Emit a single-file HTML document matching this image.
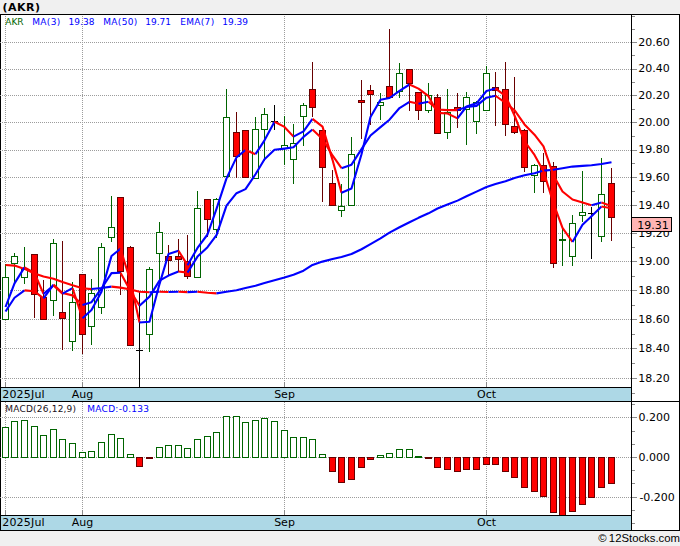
<!DOCTYPE html>
<html><head><meta charset="utf-8"><title>AKR</title>
<style>html,body{margin:0;padding:0;background:#f0f0f0;}svg{display:block}text{font-family:"DejaVu Sans","Liberation Sans",sans-serif;}.ax{font-size:11px;fill:#000}.lg{font-size:9px}.dt{font-size:11px;fill:#000}.g{stroke:#9c9c9c;stroke-width:1;stroke-dasharray:1 1;shape-rendering:crispEdges}</style></head><body>
<svg width="680" height="546" viewBox="0 0 680 546">
<rect x="0" y="0" width="680" height="546" fill="#f0f0f0"/>
<rect x="0" y="14" width="680" height="517" fill="#000"/>
<rect x="1" y="15" width="678" height="386" fill="#fff"/>
<rect x="1" y="402" width="678" height="128" fill="#fff"/>
<rect x="1" y="387" width="630" height="1" fill="#000"/>
<rect x="1" y="388" width="630" height="13" fill="#add8e6"/>
<rect x="1" y="515" width="630" height="1" fill="#000"/>
<rect x="1" y="516" width="630" height="14" fill="#add8e6"/>
<line class="g" x1="0" x2="631" y1="42.5" y2="42.5"/>
<rect x="632" y="42" width="5" height="1" fill="#8c8c8c"/>
<line class="g" x1="0" x2="631" y1="69.5" y2="69.5"/>
<rect x="632" y="69" width="5" height="1" fill="#8c8c8c"/>
<line class="g" x1="0" x2="631" y1="95.5" y2="95.5"/>
<rect x="632" y="95" width="5" height="1" fill="#8c8c8c"/>
<line class="g" x1="0" x2="631" y1="122.5" y2="122.5"/>
<rect x="632" y="122" width="5" height="1" fill="#8c8c8c"/>
<line class="g" x1="0" x2="631" y1="150.5" y2="150.5"/>
<rect x="632" y="150" width="5" height="1" fill="#8c8c8c"/>
<line class="g" x1="0" x2="631" y1="177.5" y2="177.5"/>
<rect x="632" y="177" width="5" height="1" fill="#8c8c8c"/>
<line class="g" x1="0" x2="631" y1="205.5" y2="205.5"/>
<rect x="632" y="205" width="5" height="1" fill="#8c8c8c"/>
<line class="g" x1="0" x2="631" y1="233.5" y2="233.5"/>
<rect x="632" y="233" width="5" height="1" fill="#8c8c8c"/>
<line class="g" x1="0" x2="631" y1="261.5" y2="261.5"/>
<rect x="632" y="261" width="5" height="1" fill="#8c8c8c"/>
<line class="g" x1="0" x2="631" y1="290.5" y2="290.5"/>
<rect x="632" y="290" width="5" height="1" fill="#8c8c8c"/>
<line class="g" x1="0" x2="631" y1="319.5" y2="319.5"/>
<rect x="632" y="319" width="5" height="1" fill="#8c8c8c"/>
<line class="g" x1="0" x2="631" y1="348.5" y2="348.5"/>
<rect x="632" y="348" width="5" height="1" fill="#8c8c8c"/>
<line class="g" x1="0" x2="631" y1="378.5" y2="378.5"/>
<rect x="632" y="378" width="5" height="1" fill="#8c8c8c"/>
<rect x="632" y="29" width="3" height="1" fill="#8c8c8c"/>
<rect x="632" y="55" width="3" height="1" fill="#8c8c8c"/>
<rect x="632" y="82" width="3" height="1" fill="#8c8c8c"/>
<rect x="632" y="109" width="3" height="1" fill="#8c8c8c"/>
<rect x="632" y="136" width="3" height="1" fill="#8c8c8c"/>
<rect x="632" y="163" width="3" height="1" fill="#8c8c8c"/>
<rect x="632" y="191" width="3" height="1" fill="#8c8c8c"/>
<rect x="632" y="219" width="3" height="1" fill="#8c8c8c"/>
<rect x="632" y="247" width="3" height="1" fill="#8c8c8c"/>
<rect x="632" y="276" width="3" height="1" fill="#8c8c8c"/>
<rect x="632" y="305" width="3" height="1" fill="#8c8c8c"/>
<rect x="632" y="334" width="3" height="1" fill="#8c8c8c"/>
<rect x="632" y="363" width="3" height="1" fill="#8c8c8c"/>
<rect x="632" y="16" width="3" height="1" fill="#8c8c8c"/>
<rect x="632" y="393" width="3" height="1" fill="#8c8c8c"/>
<line class="g" x1="0" x2="631" y1="417.5" y2="417.5"/>
<rect x="632" y="417" width="5" height="1" fill="#8c8c8c"/>
<line class="g" x1="0" x2="631" y1="457.5" y2="457.5"/>
<rect x="632" y="457" width="5" height="1" fill="#8c8c8c"/>
<line class="g" x1="0" x2="631" y1="497.5" y2="497.5"/>
<rect x="632" y="497" width="5" height="1" fill="#8c8c8c"/>
<rect x="632" y="404" width="3" height="1" fill="#8c8c8c"/>
<rect x="632" y="431" width="3" height="1" fill="#8c8c8c"/>
<rect x="632" y="444" width="3" height="1" fill="#8c8c8c"/>
<rect x="632" y="470" width="3" height="1" fill="#8c8c8c"/>
<rect x="632" y="483" width="3" height="1" fill="#8c8c8c"/>
<rect x="632" y="510" width="3" height="1" fill="#8c8c8c"/>
<rect x="632" y="523" width="3" height="1" fill="#8c8c8c"/>
<line class="g" x1="5.5" x2="5.5" y1="16" y2="382"/>
<line class="g" x1="5.5" x2="5.5" y1="402" y2="510"/>
<rect x="5" y="382" width="1" height="5" fill="#8c8c8c"/>
<rect x="5" y="510" width="1" height="5" fill="#8c8c8c"/>
<line class="g" x1="82.5" x2="82.5" y1="16" y2="382"/>
<line class="g" x1="82.5" x2="82.5" y1="402" y2="510"/>
<rect x="82" y="382" width="1" height="5" fill="#8c8c8c"/>
<rect x="82" y="510" width="1" height="5" fill="#8c8c8c"/>
<line class="g" x1="284.5" x2="284.5" y1="16" y2="382"/>
<line class="g" x1="284.5" x2="284.5" y1="402" y2="510"/>
<rect x="284" y="382" width="1" height="5" fill="#8c8c8c"/>
<rect x="284" y="510" width="1" height="5" fill="#8c8c8c"/>
<line class="g" x1="486.5" x2="486.5" y1="16" y2="382"/>
<line class="g" x1="486.5" x2="486.5" y1="402" y2="510"/>
<rect x="486" y="382" width="1" height="5" fill="#8c8c8c"/>
<rect x="486" y="510" width="1" height="5" fill="#8c8c8c"/>
<rect x="631" y="15" width="1" height="515" fill="#000"/>
<defs><clipPath id="c1"><rect x="1" y="15" width="630" height="372"/></clipPath><clipPath id="c2"><rect x="1" y="402" width="630" height="113"/></clipPath></defs>
<g clip-path="url(#c1)">
<rect x="5" y="264" width="1" height="56" fill="#006400"/>
<rect x="2" y="277" width="7" height="43" fill="#006400"/>
<rect x="3" y="278" width="5" height="41" fill="#fff"/>
<rect x="14" y="253" width="1" height="30" fill="#006400"/>
<rect x="11" y="256" width="7" height="8" fill="#006400"/>
<rect x="12" y="257" width="5" height="6" fill="#fff"/>
<rect x="24" y="247" width="1" height="37" fill="#006400"/>
<rect x="21" y="268" width="7" height="10" fill="#006400"/>
<rect x="22" y="269" width="5" height="8" fill="#fff"/>
<rect x="34" y="254" width="1" height="64" fill="#680000"/>
<rect x="31" y="254" width="7" height="41" fill="#680000"/>
<rect x="32" y="255" width="5" height="39" fill="#ff0000"/>
<rect x="43" y="280" width="1" height="40" fill="#680000"/>
<rect x="40" y="297" width="7" height="23" fill="#680000"/>
<rect x="41" y="298" width="5" height="21" fill="#ff0000"/>
<rect x="53" y="239" width="1" height="77" fill="#006400"/>
<rect x="50" y="243" width="7" height="58" fill="#006400"/>
<rect x="51" y="244" width="5" height="56" fill="#fff"/>
<rect x="62" y="241" width="1" height="109" fill="#680000"/>
<rect x="59" y="312" width="7" height="7" fill="#680000"/>
<rect x="60" y="313" width="5" height="5" fill="#ff0000"/>
<rect x="72" y="282" width="1" height="69" fill="#006400"/>
<rect x="69" y="302" width="7" height="40" fill="#006400"/>
<rect x="70" y="303" width="5" height="38" fill="#fff"/>
<rect x="82" y="274" width="1" height="80" fill="#680000"/>
<rect x="79" y="274" width="7" height="61" fill="#680000"/>
<rect x="80" y="275" width="5" height="59" fill="#ff0000"/>
<rect x="91" y="279" width="1" height="66" fill="#006400"/>
<rect x="88" y="293" width="7" height="34" fill="#006400"/>
<rect x="89" y="294" width="5" height="32" fill="#fff"/>
<rect x="101" y="243" width="1" height="71" fill="#006400"/>
<rect x="98" y="247" width="7" height="61" fill="#006400"/>
<rect x="99" y="248" width="5" height="59" fill="#fff"/>
<rect x="111" y="196" width="1" height="46" fill="#006400"/>
<rect x="108" y="227" width="7" height="11" fill="#006400"/>
<rect x="109" y="228" width="5" height="9" fill="#fff"/>
<rect x="120" y="197" width="1" height="98" fill="#680000"/>
<rect x="117" y="197" width="7" height="75" fill="#680000"/>
<rect x="118" y="198" width="5" height="73" fill="#ff0000"/>
<rect x="130" y="246" width="1" height="100" fill="#680000"/>
<rect x="127" y="247" width="7" height="99" fill="#680000"/>
<rect x="128" y="248" width="5" height="97" fill="#ff0000"/>
<rect x="139" y="292" width="1" height="96" fill="#000"/>
<rect x="136" y="350" width="7" height="1" fill="#000"/>
<rect x="149" y="267" width="1" height="85" fill="#006400"/>
<rect x="146" y="269" width="7" height="66" fill="#006400"/>
<rect x="147" y="270" width="5" height="64" fill="#fff"/>
<rect x="159" y="222" width="1" height="62" fill="#006400"/>
<rect x="156" y="232" width="7" height="22" fill="#006400"/>
<rect x="157" y="233" width="5" height="20" fill="#fff"/>
<rect x="168" y="245" width="1" height="30" fill="#680000"/>
<rect x="165" y="256" width="7" height="5" fill="#680000"/>
<rect x="166" y="257" width="5" height="3" fill="#ff0000"/>
<rect x="178" y="239" width="1" height="33" fill="#680000"/>
<rect x="175" y="256" width="7" height="4" fill="#680000"/>
<rect x="176" y="257" width="5" height="2" fill="#ff0000"/>
<rect x="187" y="235" width="1" height="44" fill="#680000"/>
<rect x="184" y="261" width="7" height="16" fill="#680000"/>
<rect x="185" y="262" width="5" height="14" fill="#ff0000"/>
<rect x="197" y="191" width="1" height="87" fill="#006400"/>
<rect x="194" y="208" width="7" height="70" fill="#006400"/>
<rect x="195" y="209" width="5" height="68" fill="#fff"/>
<rect x="207" y="199" width="1" height="38" fill="#680000"/>
<rect x="204" y="199" width="7" height="21" fill="#680000"/>
<rect x="205" y="200" width="5" height="19" fill="#ff0000"/>
<rect x="216" y="198" width="1" height="40" fill="#006400"/>
<rect x="213" y="199" width="7" height="31" fill="#006400"/>
<rect x="214" y="200" width="5" height="29" fill="#fff"/>
<rect x="226" y="89" width="1" height="88" fill="#006400"/>
<rect x="223" y="117" width="7" height="60" fill="#006400"/>
<rect x="224" y="118" width="5" height="58" fill="#fff"/>
<rect x="236" y="112" width="1" height="66" fill="#680000"/>
<rect x="233" y="132" width="7" height="25" fill="#680000"/>
<rect x="234" y="133" width="5" height="23" fill="#ff0000"/>
<rect x="245" y="130" width="1" height="48" fill="#680000"/>
<rect x="242" y="130" width="7" height="48" fill="#680000"/>
<rect x="243" y="131" width="5" height="46" fill="#ff0000"/>
<rect x="255" y="117" width="1" height="62" fill="#006400"/>
<rect x="252" y="129" width="7" height="50" fill="#006400"/>
<rect x="253" y="130" width="5" height="48" fill="#fff"/>
<rect x="264" y="108" width="1" height="53" fill="#006400"/>
<rect x="261" y="114" width="7" height="16" fill="#006400"/>
<rect x="262" y="115" width="5" height="14" fill="#fff"/>
<rect x="274" y="105" width="1" height="25" fill="#000"/>
<rect x="271" y="121" width="7" height="1" fill="#000"/>
<rect x="284" y="116" width="1" height="49" fill="#006400"/>
<rect x="281" y="145" width="7" height="4" fill="#006400"/>
<rect x="282" y="146" width="5" height="2" fill="#fff"/>
<rect x="293" y="124" width="1" height="60" fill="#006400"/>
<rect x="290" y="143" width="7" height="17" fill="#006400"/>
<rect x="291" y="144" width="5" height="15" fill="#fff"/>
<rect x="303" y="103" width="1" height="43" fill="#006400"/>
<rect x="300" y="105" width="7" height="12" fill="#006400"/>
<rect x="301" y="106" width="5" height="10" fill="#fff"/>
<rect x="312" y="62" width="1" height="55" fill="#680000"/>
<rect x="309" y="89" width="7" height="19" fill="#680000"/>
<rect x="310" y="90" width="5" height="17" fill="#ff0000"/>
<rect x="322" y="130" width="1" height="72" fill="#680000"/>
<rect x="319" y="130" width="7" height="38" fill="#680000"/>
<rect x="320" y="131" width="5" height="36" fill="#ff0000"/>
<rect x="332" y="170" width="1" height="36" fill="#680000"/>
<rect x="329" y="183" width="7" height="23" fill="#680000"/>
<rect x="330" y="184" width="5" height="21" fill="#ff0000"/>
<rect x="341" y="184" width="1" height="33" fill="#006400"/>
<rect x="338" y="206" width="7" height="5" fill="#006400"/>
<rect x="339" y="207" width="5" height="3" fill="#fff"/>
<rect x="351" y="137" width="1" height="69" fill="#006400"/>
<rect x="348" y="154" width="7" height="52" fill="#006400"/>
<rect x="349" y="155" width="5" height="50" fill="#fff"/>
<rect x="361" y="80" width="1" height="59" fill="#680000"/>
<rect x="358" y="100" width="7" height="3" fill="#680000"/>
<rect x="359" y="101" width="5" height="1" fill="#ff0000"/>
<rect x="370" y="85" width="1" height="40" fill="#680000"/>
<rect x="367" y="90" width="7" height="5" fill="#680000"/>
<rect x="368" y="91" width="5" height="3" fill="#ff0000"/>
<rect x="380" y="93" width="1" height="27" fill="#006400"/>
<rect x="377" y="102" width="7" height="4" fill="#006400"/>
<rect x="378" y="103" width="5" height="2" fill="#fff"/>
<rect x="389" y="29" width="1" height="69" fill="#680000"/>
<rect x="386" y="86" width="7" height="12" fill="#680000"/>
<rect x="387" y="87" width="5" height="10" fill="#ff0000"/>
<rect x="399" y="63" width="1" height="35" fill="#006400"/>
<rect x="396" y="73" width="7" height="19" fill="#006400"/>
<rect x="397" y="74" width="5" height="17" fill="#fff"/>
<rect x="409" y="69" width="1" height="42" fill="#680000"/>
<rect x="406" y="69" width="7" height="15" fill="#680000"/>
<rect x="407" y="70" width="5" height="13" fill="#ff0000"/>
<rect x="418" y="92" width="1" height="28" fill="#680000"/>
<rect x="415" y="92" width="7" height="19" fill="#680000"/>
<rect x="416" y="93" width="5" height="17" fill="#ff0000"/>
<rect x="428" y="83" width="1" height="30" fill="#006400"/>
<rect x="425" y="95" width="7" height="16" fill="#006400"/>
<rect x="426" y="96" width="5" height="14" fill="#fff"/>
<rect x="437" y="94" width="1" height="40" fill="#680000"/>
<rect x="434" y="97" width="7" height="37" fill="#680000"/>
<rect x="435" y="98" width="5" height="35" fill="#ff0000"/>
<rect x="447" y="89" width="1" height="50" fill="#006400"/>
<rect x="444" y="112" width="7" height="21" fill="#006400"/>
<rect x="445" y="113" width="5" height="19" fill="#fff"/>
<rect x="457" y="93" width="1" height="35" fill="#680000"/>
<rect x="454" y="107" width="7" height="4" fill="#680000"/>
<rect x="455" y="108" width="5" height="2" fill="#ff0000"/>
<rect x="466" y="92" width="1" height="53" fill="#006400"/>
<rect x="463" y="97" width="7" height="13" fill="#006400"/>
<rect x="464" y="98" width="5" height="11" fill="#fff"/>
<rect x="476" y="101" width="1" height="33" fill="#006400"/>
<rect x="473" y="102" width="7" height="20" fill="#006400"/>
<rect x="474" y="103" width="5" height="18" fill="#fff"/>
<rect x="486" y="66" width="1" height="45" fill="#006400"/>
<rect x="483" y="73" width="7" height="38" fill="#006400"/>
<rect x="484" y="74" width="5" height="36" fill="#fff"/>
<rect x="495" y="72" width="1" height="54" fill="#680000"/>
<rect x="492" y="87" width="7" height="4" fill="#680000"/>
<rect x="493" y="88" width="5" height="2" fill="#ff0000"/>
<rect x="505" y="62" width="1" height="74" fill="#680000"/>
<rect x="502" y="89" width="7" height="36" fill="#680000"/>
<rect x="503" y="90" width="5" height="34" fill="#ff0000"/>
<rect x="514" y="77" width="1" height="57" fill="#680000"/>
<rect x="511" y="126" width="7" height="7" fill="#680000"/>
<rect x="512" y="127" width="5" height="5" fill="#ff0000"/>
<rect x="524" y="129" width="1" height="43" fill="#680000"/>
<rect x="521" y="130" width="7" height="38" fill="#680000"/>
<rect x="522" y="131" width="5" height="36" fill="#ff0000"/>
<rect x="534" y="164" width="1" height="29" fill="#006400"/>
<rect x="531" y="165" width="7" height="11" fill="#006400"/>
<rect x="532" y="166" width="5" height="9" fill="#fff"/>
<rect x="543" y="153" width="1" height="40" fill="#680000"/>
<rect x="540" y="165" width="7" height="17" fill="#680000"/>
<rect x="541" y="166" width="5" height="15" fill="#ff0000"/>
<rect x="553" y="162" width="1" height="106" fill="#680000"/>
<rect x="550" y="166" width="7" height="98" fill="#680000"/>
<rect x="551" y="167" width="5" height="96" fill="#ff0000"/>
<rect x="562" y="229" width="1" height="37" fill="#006400"/>
<rect x="559" y="239" width="7" height="2" fill="#006400"/>
<rect x="572" y="215" width="1" height="51" fill="#006400"/>
<rect x="569" y="223" width="7" height="34" fill="#006400"/>
<rect x="570" y="224" width="5" height="32" fill="#fff"/>
<rect x="582" y="171" width="1" height="51" fill="#006400"/>
<rect x="579" y="212" width="7" height="4" fill="#006400"/>
<rect x="580" y="213" width="5" height="2" fill="#fff"/>
<rect x="591" y="207" width="1" height="52" fill="#000"/>
<rect x="588" y="213" width="7" height="1" fill="#000"/>
<rect x="601" y="158" width="1" height="84" fill="#006400"/>
<rect x="598" y="194" width="7" height="43" fill="#006400"/>
<rect x="599" y="195" width="5" height="41" fill="#fff"/>
<rect x="611" y="168" width="1" height="73" fill="#680000"/>
<rect x="608" y="183" width="7" height="35" fill="#680000"/>
<rect x="609" y="184" width="5" height="33" fill="#ff0000"/>
<polyline points="5.5,265.01 14.5,265.6 24.5,268.89 34.5,273.47 43.5,276.55 53.5,278.83 62.5,282.09 72.5,285.33 82.5,288.27 91.5,289.08" fill="none" stroke="#ff0000" stroke-width="2.1" stroke-linejoin="round" stroke-linecap="butt"/>
<polyline points="91.5,289.08 101.5,287.97 111.5,286.62" fill="none" stroke="#0000ff" stroke-width="2.1" stroke-linejoin="round" stroke-linecap="butt"/>
<polyline points="111.5,286.62 120.5,287.65 130.5,289.56 139.5,291.76 149.5,292.24" fill="none" stroke="#ff0000" stroke-width="2.1" stroke-linejoin="round" stroke-linecap="butt"/>
<polyline points="149.5,292.24 159.5,291.75" fill="none" stroke="#0000ff" stroke-width="2.1" stroke-linejoin="round" stroke-linecap="butt"/>
<polyline points="159.5,291.75 168.5,291.95" fill="none" stroke="#ff0000" stroke-width="2.1" stroke-linejoin="round" stroke-linecap="butt"/>
<polyline points="168.5,291.95 178.5,291.76" fill="none" stroke="#0000ff" stroke-width="2.1" stroke-linejoin="round" stroke-linecap="butt"/>
<polyline points="178.5,291.76 187.5,292.09" fill="none" stroke="#ff0000" stroke-width="2.1" stroke-linejoin="round" stroke-linecap="butt"/>
<polyline points="187.5,292.09 197.5,291.77" fill="none" stroke="#0000ff" stroke-width="2.1" stroke-linejoin="round" stroke-linecap="butt"/>
<polyline points="197.5,291.77 207.5,292.76 216.5,293.36" fill="none" stroke="#ff0000" stroke-width="2.1" stroke-linejoin="round" stroke-linecap="butt"/>
<polyline points="216.5,293.36 226.5,291.73 236.5,290.22 245.5,287.96 255.5,285.7 264.5,282.96 274.5,280.21 284.5,277.48 293.5,274.76 303.5,270.74 312.5,264.97 322.5,261.61 332.5,258.98 341.5,256.9 351.5,254.07 361.5,249.24 370.5,244.11 380.5,238.34 389.5,232.57 399.5,227.27 409.5,222.21 418.5,217.82 428.5,213.33 437.5,208.52 447.5,204.47 457.5,200.62 466.5,196.23 476.5,191.6 486.5,186.99 495.5,184.08 505.5,181.18 514.5,178.04 524.5,175.27 534.5,173.17 543.5,170.6 553.5,169.78 562.5,168.31 572.5,166.59 582.5,165.89 591.5,165.29 601.5,163.97 611.5,162.18" fill="none" stroke="#0000ff" stroke-width="2.1" stroke-linejoin="round" stroke-linecap="butt"/>
<polyline points="5.5,311.5 14.5,297.73 24.5,290.42" fill="none" stroke="#0000ff" stroke-width="2.1" stroke-linejoin="round" stroke-linecap="butt"/>
<polyline points="24.5,290.42 34.5,291.31 43.5,298.3" fill="none" stroke="#ff0000" stroke-width="2.1" stroke-linejoin="round" stroke-linecap="butt"/>
<polyline points="43.5,298.3 53.5,284.54" fill="none" stroke="#0000ff" stroke-width="2.1" stroke-linejoin="round" stroke-linecap="butt"/>
<polyline points="53.5,284.54 62.5,293 72.5,295.38 82.5,305.03" fill="none" stroke="#ff0000" stroke-width="2.1" stroke-linejoin="round" stroke-linecap="butt"/>
<polyline points="82.5,305.03 91.5,302.15 101.5,288.46 111.5,273.1 120.5,272.76" fill="none" stroke="#0000ff" stroke-width="2.1" stroke-linejoin="round" stroke-linecap="butt"/>
<polyline points="120.5,272.76 130.5,290.92 139.5,305.79" fill="none" stroke="#ff0000" stroke-width="2.1" stroke-linejoin="round" stroke-linecap="butt"/>
<polyline points="139.5,305.79 149.5,296.65 159.5,280.64 168.5,275.54 178.5,271.47" fill="none" stroke="#0000ff" stroke-width="2.1" stroke-linejoin="round" stroke-linecap="butt"/>
<polyline points="178.5,271.47 187.5,272.6" fill="none" stroke="#ff0000" stroke-width="2.1" stroke-linejoin="round" stroke-linecap="butt"/>
<polyline points="187.5,272.6 197.5,256.58 207.5,247.18 216.5,235.14 226.5,205.6 236.5,193.2 245.5,189.15 255.5,174.24 264.5,159.3 274.5,149.8 284.5,148.6 293.5,147.33 303.5,136.87 312.5,129.53" fill="none" stroke="#0000ff" stroke-width="2.1" stroke-linejoin="round" stroke-linecap="butt"/>
<polyline points="312.5,129.53 322.5,138.9 332.5,155.42 341.5,168.19" fill="none" stroke="#ff0000" stroke-width="2.1" stroke-linejoin="round" stroke-linecap="butt"/>
<polyline points="341.5,168.19 351.5,164.64 361.5,149.11 370.5,135.46 380.5,127.09 389.5,119.69 399.5,108.02 409.5,101.77" fill="none" stroke="#0000ff" stroke-width="2.1" stroke-linejoin="round" stroke-linecap="butt"/>
<polyline points="409.5,101.77 418.5,103.82" fill="none" stroke="#ff0000" stroke-width="2.1" stroke-linejoin="round" stroke-linecap="butt"/>
<polyline points="418.5,103.82 428.5,101.74" fill="none" stroke="#0000ff" stroke-width="2.1" stroke-linejoin="round" stroke-linecap="butt"/>
<polyline points="428.5,101.74 437.5,109.56 447.5,110.17 457.5,110.13" fill="none" stroke="#ff0000" stroke-width="2.1" stroke-linejoin="round" stroke-linecap="butt"/>
<polyline points="457.5,110.13 466.5,106.97 476.5,105.85 486.5,97.66 495.5,95.75" fill="none" stroke="#0000ff" stroke-width="2.1" stroke-linejoin="round" stroke-linecap="butt"/>
<polyline points="495.5,95.75 505.5,102.91 514.5,110.21 524.5,124.47 534.5,134.7 543.5,146.34 553.5,175.63 562.5,191.47 572.5,199.48 582.5,202.61 591.5,205.33" fill="none" stroke="#ff0000" stroke-width="2.1" stroke-linejoin="round" stroke-linecap="butt"/>
<polyline points="591.5,205.33 601.5,202.5" fill="none" stroke="#0000ff" stroke-width="2.1" stroke-linejoin="round" stroke-linecap="butt"/>
<polyline points="601.5,202.5 611.5,206.12" fill="none" stroke="#ff0000" stroke-width="2.1" stroke-linejoin="round" stroke-linecap="butt"/>
<polyline points="5.5,307 14.5,283.4 24.5,267.33" fill="none" stroke="#0000ff" stroke-width="2.1" stroke-linejoin="round" stroke-linecap="butt"/>
<polyline points="24.5,267.33 34.5,272.97 43.5,293.92" fill="none" stroke="#ff0000" stroke-width="2.1" stroke-linejoin="round" stroke-linecap="butt"/>
<polyline points="43.5,293.92 53.5,285.5" fill="none" stroke="#0000ff" stroke-width="2.1" stroke-linejoin="round" stroke-linecap="butt"/>
<polyline points="53.5,285.5 62.5,293.63" fill="none" stroke="#ff0000" stroke-width="2.1" stroke-linejoin="round" stroke-linecap="butt"/>
<polyline points="62.5,293.63 72.5,288.05" fill="none" stroke="#0000ff" stroke-width="2.1" stroke-linejoin="round" stroke-linecap="butt"/>
<polyline points="72.5,288.05 82.5,318.3" fill="none" stroke="#ff0000" stroke-width="2.1" stroke-linejoin="round" stroke-linecap="butt"/>
<polyline points="82.5,318.3 91.5,310 101.5,291.63 111.5,255.97 120.5,248.72" fill="none" stroke="#0000ff" stroke-width="2.1" stroke-linejoin="round" stroke-linecap="butt"/>
<polyline points="120.5,248.72 130.5,281.38 139.5,322.52" fill="none" stroke="#ff0000" stroke-width="2.1" stroke-linejoin="round" stroke-linecap="butt"/>
<polyline points="139.5,322.52 149.5,321.68 159.5,284.08 168.5,254.03 178.5,250.7" fill="none" stroke="#0000ff" stroke-width="2.1" stroke-linejoin="round" stroke-linecap="butt"/>
<polyline points="178.5,250.7 187.5,265.17" fill="none" stroke="#ff0000" stroke-width="2.1" stroke-linejoin="round" stroke-linecap="butt"/>
<polyline points="187.5,265.17 197.5,247.92 207.5,234.5 216.5,208.83 226.5,178.33 236.5,157.33 245.5,150" fill="none" stroke="#0000ff" stroke-width="2.1" stroke-linejoin="round" stroke-linecap="butt"/>
<polyline points="245.5,150 255.5,154.17" fill="none" stroke="#ff0000" stroke-width="2.1" stroke-linejoin="round" stroke-linecap="butt"/>
<polyline points="255.5,154.17 264.5,140.33 274.5,121.77" fill="none" stroke="#0000ff" stroke-width="2.1" stroke-linejoin="round" stroke-linecap="butt"/>
<polyline points="274.5,121.77 284.5,126.93 293.5,136.6" fill="none" stroke="#ff0000" stroke-width="2.1" stroke-linejoin="round" stroke-linecap="butt"/>
<polyline points="293.5,136.6 303.5,131.33 312.5,118.83" fill="none" stroke="#0000ff" stroke-width="2.1" stroke-linejoin="round" stroke-linecap="butt"/>
<polyline points="312.5,118.83 322.5,126.67 332.5,159.83 341.5,192.83" fill="none" stroke="#ff0000" stroke-width="2.1" stroke-linejoin="round" stroke-linecap="butt"/>
<polyline points="341.5,192.83 351.5,188.5 361.5,154.33 370.5,117 380.5,99.67 389.5,98 399.5,90.83 409.5,84.5" fill="none" stroke="#0000ff" stroke-width="2.1" stroke-linejoin="round" stroke-linecap="butt"/>
<polyline points="409.5,84.5 418.5,88.67 428.5,96.17 437.5,112.83 447.5,113.5 457.5,118.33" fill="none" stroke="#ff0000" stroke-width="2.1" stroke-linejoin="round" stroke-linecap="butt"/>
<polyline points="457.5,118.33 466.5,106.5 476.5,103.33 486.5,91.03 495.5,88.53" fill="none" stroke="#0000ff" stroke-width="2.1" stroke-linejoin="round" stroke-linecap="butt"/>
<polyline points="495.5,88.53 505.5,95.83 514.5,115.5 524.5,141.25 534.5,154.92 543.5,171.3 553.5,203.38 562.5,227.92 572.5,242" fill="none" stroke="#ff0000" stroke-width="2.1" stroke-linejoin="round" stroke-linecap="butt"/>
<polyline points="572.5,242 582.5,224.83 591.5,216.33 601.5,206.5" fill="none" stroke="#0000ff" stroke-width="2.1" stroke-linejoin="round" stroke-linecap="butt"/>
<polyline points="601.5,206.5 611.5,208.17" fill="none" stroke="#ff0000" stroke-width="2.1" stroke-linejoin="round" stroke-linecap="butt"/>
</g>
<g clip-path="url(#c2)">
<rect x="2" y="427" width="7" height="31" fill="#006400"/>
<rect x="3" y="428" width="5" height="29" fill="#fff"/>
<rect x="11" y="421" width="7" height="37" fill="#006400"/>
<rect x="12" y="422" width="5" height="35" fill="#fff"/>
<rect x="21" y="420" width="7" height="38" fill="#006400"/>
<rect x="22" y="421" width="5" height="36" fill="#fff"/>
<rect x="31" y="426" width="7" height="32" fill="#006400"/>
<rect x="32" y="427" width="5" height="30" fill="#fff"/>
<rect x="40" y="435" width="7" height="23" fill="#006400"/>
<rect x="41" y="436" width="5" height="21" fill="#fff"/>
<rect x="50" y="429" width="7" height="29" fill="#006400"/>
<rect x="51" y="430" width="5" height="27" fill="#fff"/>
<rect x="59" y="439" width="7" height="19" fill="#006400"/>
<rect x="60" y="440" width="5" height="17" fill="#fff"/>
<rect x="69" y="443" width="7" height="15" fill="#006400"/>
<rect x="70" y="444" width="5" height="13" fill="#fff"/>
<rect x="79" y="452" width="7" height="6" fill="#006400"/>
<rect x="80" y="453" width="5" height="4" fill="#fff"/>
<rect x="88" y="451" width="7" height="7" fill="#006400"/>
<rect x="89" y="452" width="5" height="5" fill="#fff"/>
<rect x="98" y="442" width="7" height="16" fill="#006400"/>
<rect x="99" y="443" width="5" height="14" fill="#fff"/>
<rect x="108" y="434" width="7" height="24" fill="#006400"/>
<rect x="109" y="435" width="5" height="22" fill="#fff"/>
<rect x="117" y="438" width="7" height="20" fill="#006400"/>
<rect x="118" y="439" width="5" height="18" fill="#fff"/>
<rect x="127" y="454" width="7" height="4" fill="#006400"/>
<rect x="128" y="455" width="5" height="2" fill="#fff"/>
<rect x="136" y="457" width="7" height="10" fill="#680000"/>
<rect x="137" y="458" width="5" height="8" fill="#ff0000"/>
<rect x="146" y="457" width="7" height="2" fill="#680000"/>
<rect x="156" y="447" width="7" height="11" fill="#006400"/>
<rect x="157" y="448" width="5" height="9" fill="#fff"/>
<rect x="165" y="445" width="7" height="13" fill="#006400"/>
<rect x="166" y="446" width="5" height="11" fill="#fff"/>
<rect x="175" y="445" width="7" height="13" fill="#006400"/>
<rect x="176" y="446" width="5" height="11" fill="#fff"/>
<rect x="184" y="448" width="7" height="10" fill="#006400"/>
<rect x="185" y="449" width="5" height="8" fill="#fff"/>
<rect x="194" y="439" width="7" height="19" fill="#006400"/>
<rect x="195" y="440" width="5" height="17" fill="#fff"/>
<rect x="204" y="436" width="7" height="22" fill="#006400"/>
<rect x="205" y="437" width="5" height="20" fill="#fff"/>
<rect x="213" y="432" width="7" height="26" fill="#006400"/>
<rect x="214" y="433" width="5" height="24" fill="#fff"/>
<rect x="223" y="416" width="7" height="42" fill="#006400"/>
<rect x="224" y="417" width="5" height="40" fill="#fff"/>
<rect x="233" y="416" width="7" height="42" fill="#006400"/>
<rect x="234" y="417" width="5" height="40" fill="#fff"/>
<rect x="242" y="422" width="7" height="36" fill="#006400"/>
<rect x="243" y="423" width="5" height="34" fill="#fff"/>
<rect x="252" y="420" width="7" height="38" fill="#006400"/>
<rect x="253" y="421" width="5" height="36" fill="#fff"/>
<rect x="261" y="418" width="7" height="40" fill="#006400"/>
<rect x="262" y="419" width="5" height="38" fill="#fff"/>
<rect x="271" y="421" width="7" height="37" fill="#006400"/>
<rect x="272" y="422" width="5" height="35" fill="#fff"/>
<rect x="281" y="430" width="7" height="28" fill="#006400"/>
<rect x="282" y="431" width="5" height="26" fill="#fff"/>
<rect x="290" y="437" width="7" height="21" fill="#006400"/>
<rect x="291" y="438" width="5" height="19" fill="#fff"/>
<rect x="300" y="437" width="7" height="21" fill="#006400"/>
<rect x="301" y="438" width="5" height="19" fill="#fff"/>
<rect x="309" y="439" width="7" height="19" fill="#006400"/>
<rect x="310" y="440" width="5" height="17" fill="#fff"/>
<rect x="319" y="454" width="7" height="4" fill="#006400"/>
<rect x="320" y="455" width="5" height="2" fill="#fff"/>
<rect x="329" y="457" width="7" height="15" fill="#680000"/>
<rect x="330" y="458" width="5" height="13" fill="#ff0000"/>
<rect x="338" y="457" width="7" height="26" fill="#680000"/>
<rect x="339" y="458" width="5" height="24" fill="#ff0000"/>
<rect x="348" y="457" width="7" height="23" fill="#680000"/>
<rect x="349" y="458" width="5" height="21" fill="#ff0000"/>
<rect x="358" y="457" width="7" height="11" fill="#680000"/>
<rect x="359" y="458" width="5" height="9" fill="#ff0000"/>
<rect x="367" y="457" width="7" height="3" fill="#680000"/>
<rect x="368" y="458" width="5" height="1" fill="#ff0000"/>
<rect x="377" y="455" width="7" height="3" fill="#006400"/>
<rect x="378" y="456" width="5" height="1" fill="#fff"/>
<rect x="386" y="453" width="7" height="5" fill="#006400"/>
<rect x="387" y="454" width="5" height="3" fill="#fff"/>
<rect x="396" y="449" width="7" height="9" fill="#006400"/>
<rect x="397" y="450" width="5" height="7" fill="#fff"/>
<rect x="406" y="449" width="7" height="9" fill="#006400"/>
<rect x="407" y="450" width="5" height="7" fill="#fff"/>
<rect x="415" y="456" width="7" height="2" fill="#006400"/>
<rect x="425" y="457" width="7" height="2" fill="#680000"/>
<rect x="434" y="457" width="7" height="11" fill="#680000"/>
<rect x="435" y="458" width="5" height="9" fill="#ff0000"/>
<rect x="444" y="457" width="7" height="13" fill="#680000"/>
<rect x="445" y="458" width="5" height="11" fill="#ff0000"/>
<rect x="454" y="457" width="7" height="15" fill="#680000"/>
<rect x="455" y="458" width="5" height="13" fill="#ff0000"/>
<rect x="463" y="457" width="7" height="13" fill="#680000"/>
<rect x="464" y="458" width="5" height="11" fill="#ff0000"/>
<rect x="473" y="457" width="7" height="13" fill="#680000"/>
<rect x="474" y="458" width="5" height="11" fill="#ff0000"/>
<rect x="483" y="457" width="7" height="8" fill="#680000"/>
<rect x="484" y="458" width="5" height="6" fill="#ff0000"/>
<rect x="492" y="457" width="7" height="8" fill="#680000"/>
<rect x="493" y="458" width="5" height="6" fill="#ff0000"/>
<rect x="502" y="457" width="7" height="15" fill="#680000"/>
<rect x="503" y="458" width="5" height="13" fill="#ff0000"/>
<rect x="511" y="457" width="7" height="21" fill="#680000"/>
<rect x="512" y="458" width="5" height="19" fill="#ff0000"/>
<rect x="521" y="457" width="7" height="31" fill="#680000"/>
<rect x="522" y="458" width="5" height="29" fill="#ff0000"/>
<rect x="531" y="457" width="7" height="35" fill="#680000"/>
<rect x="532" y="458" width="5" height="33" fill="#ff0000"/>
<rect x="540" y="457" width="7" height="40" fill="#680000"/>
<rect x="541" y="458" width="5" height="38" fill="#ff0000"/>
<rect x="550" y="457" width="7" height="56" fill="#680000"/>
<rect x="551" y="458" width="5" height="54" fill="#ff0000"/>
<rect x="559" y="457" width="7" height="59" fill="#680000"/>
<rect x="560" y="458" width="5" height="57" fill="#ff0000"/>
<rect x="569" y="457" width="7" height="55" fill="#680000"/>
<rect x="570" y="458" width="5" height="53" fill="#ff0000"/>
<rect x="579" y="457" width="7" height="48" fill="#680000"/>
<rect x="580" y="458" width="5" height="46" fill="#ff0000"/>
<rect x="588" y="457" width="7" height="41" fill="#680000"/>
<rect x="589" y="458" width="5" height="39" fill="#ff0000"/>
<rect x="598" y="457" width="7" height="31" fill="#680000"/>
<rect x="599" y="458" width="5" height="29" fill="#ff0000"/>
<rect x="608" y="457" width="7" height="27" fill="#680000"/>
<rect x="609" y="458" width="5" height="25" fill="#ff0000"/>
</g>
<text x="2.6" y="11" style="font-weight:bold;font-size:11px;letter-spacing:0.45px" fill="#000">(AKR)</text>
<text class="lg" y="25"><tspan x="5.3" fill="#006400">AKR</tspan><tspan x="32.3" fill="#0000ff" style="letter-spacing:0.3px">MA(3)</tspan><tspan x="68.6" fill="#0000ff">19.38</tspan><tspan x="103.3" fill="#0000ff" style="letter-spacing:0.3px">MA(50)</tspan><tspan x="145.2" fill="#0000ff">19.71</tspan><tspan x="180.3" fill="#0000ff" style="letter-spacing:0.3px">EMA(7)</tspan><tspan x="222.2" fill="#0000ff">19.39</tspan></text>
<text class="lg" y="412"><tspan x="5.3" fill="#201018" style="letter-spacing:0.2px">MACD(26,12,9)</tspan><tspan x="87.3" fill="#0000ff" style="letter-spacing:0.27px">MACD:-0.133</tspan></text>
<text class="ax" x="638.2" y="46">20.60</text>
<text class="ax" x="638.2" y="72">20.40</text>
<text class="ax" x="638.2" y="99">20.20</text>
<text class="ax" x="638.2" y="126">20.00</text>
<text class="ax" x="638.2" y="153">19.80</text>
<text class="ax" x="638.2" y="181">19.60</text>
<text class="ax" x="638.2" y="209">19.40</text>
<text class="ax" x="638.2" y="237">19.20</text>
<text class="ax" x="638.2" y="265">19.00</text>
<text class="ax" x="638.2" y="294">18.80</text>
<text class="ax" x="638.2" y="323">18.60</text>
<text class="ax" x="638.2" y="352">18.40</text>
<text class="ax" x="638.2" y="382">18.20</text>
<text class="ax" x="638.6" y="421">0.200</text>
<text class="ax" x="638.6" y="461">0.000</text>
<text class="ax" x="639.4" y="501">-0.200</text>
<rect x="631" y="217" width="41" height="15" fill="#000"/>
<rect x="632" y="218" width="39" height="13" fill="#ffb4b4"/>
<text class="ax" x="637.2" y="228.6">19.31</text>
<text class="dt" x="2.2" y="398" style="letter-spacing:0.2px">2025Jul</text>
<text class="dt" x="82.5" y="398" text-anchor="middle">Aug</text>
<text class="dt" x="284.5" y="398" text-anchor="middle">Sep</text>
<text class="dt" x="486.5" y="398" text-anchor="middle">Oct</text>
<text class="dt" x="2.2" y="526" style="letter-spacing:0.2px">2025Jul</text>
<text class="dt" x="82.5" y="526" text-anchor="middle">Aug</text>
<text class="dt" x="284.5" y="526" text-anchor="middle">Sep</text>
<text class="dt" x="486.5" y="526" text-anchor="middle">Oct</text>
<text x="680" y="542" text-anchor="end" style="font-family:'Liberation Sans',sans-serif;font-size:11.33px;word-spacing:-0.8px" fill="#000">&#169; 12Stocks.com</text>
</svg></body></html>
